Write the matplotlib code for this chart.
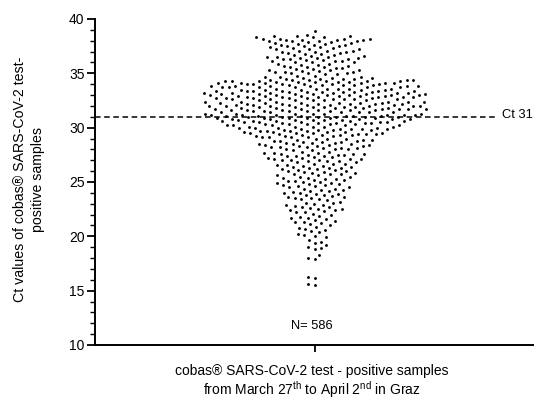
import numpy as np
import matplotlib
matplotlib.use("Agg")
import matplotlib.pyplot as plt
from matplotlib.ticker import MultipleLocator

plt.rcParams['font.family'] = ['Liberation Sans', 'DejaVu Sans']
plt.rcParams['mathtext.fontset'] = 'custom'
plt.rcParams['mathtext.rm'] = 'Liberation Sans'
plt.rcParams['mathtext.it'] = 'Liberation Sans:italic'
plt.rcParams['lines.scale_dashes'] = False

# ---- data: number of samples at each tenth of a cycle, per whole Ct value ----
ct_whole = [15, 16, 17, 18, 19, 20, 21, 22, 23, 24, 25, 26,
            27, 28, 29, 30, 31, 32, 33, 34, 35, 36, 37, 38]
tenth_counts = [
    [0, 0, 0, 0, 0, 1, 1, 0, 0, 0],   # 15
    [0, 0, 1, 1, 0, 0, 0, 0, 0, 0],   # 16
    [0, 0, 0, 0, 0, 0, 0, 0, 0, 1],   # 17
    [1, 0, 0, 1, 0, 0, 0, 0, 1, 1],   # 18
    [1, 0, 1, 0, 1, 1, 0, 1, 0, 1],   # 19
    [1, 1, 1, 0, 1, 1, 1, 1, 1, 1],   # 20
    [1, 1, 1, 2, 1, 1, 1, 2, 1, 1],   # 21
    [1, 1, 2, 1, 2, 2, 1, 2, 1, 2],   # 22
    [1, 2, 1, 1, 2, 2, 2, 1, 2, 2],   # 23
    [2, 1, 2, 2, 2, 2, 2, 2, 2, 2],   # 24
    [2, 2, 2, 2, 2, 2, 2, 3, 2, 2],   # 25
    [2, 2, 2, 3, 2, 2, 2, 3, 2, 3],   # 26
    [3, 3, 2, 2, 3, 3, 3, 3, 2, 2],   # 27
    [3, 3, 3, 3, 3, 3, 3, 3, 3, 3],   # 28
    [3, 4, 3, 4, 4, 4, 4, 4, 4, 5],   # 29
    [4, 5, 5, 5, 5, 5, 5, 5, 5, 6],   # 30
    [6, 6, 6, 6, 6, 5, 6, 6, 5, 6],   # 31
    [6, 6, 6, 6, 6, 5, 6, 6, 6, 6],   # 32
    [6, 6, 6, 6, 6, 5, 6, 6, 6, 5],   # 33
    [6, 6, 5, 6, 5, 4, 3, 3, 2, 2],   # 34
    [3, 3, 2, 3, 2, 2, 3, 2, 2, 2],   # 35
    [3, 3, 2, 3, 3, 3, 2, 2, 2, 2],   # 36
    [3, 3, 3, 2, 2, 3, 3, 2, 2, 2],   # 37
    [4, 4, 4, 3, 3, 1, 0, 0, 0, 1],   # 38
]
cutoff_ct = 31
n_label = "N= 586"
x_label = ("cobas® SARS-CoV-2 test - positive samples\n"
           "from March 27$^{\\mathrm{th}}$ to April 2$^{\\mathrm{nd}}$ in Graz")
y_label = "Ct values of cobas® SARS-CoV-2 test-\npositive samples"

values = []
for w, row in zip(ct_whole, tenth_counts):
    for t, c in enumerate(row):
        values += [w + t / 10.0] * c
values = np.sort(np.array(values))

# ---- figure ----
W, H = 534, 399
fig = plt.figure(figsize=(W / 100, H / 100), dpi=100)
ax_l, ax_b, ax_w, ax_h = 95 / W, 54 / H, 439 / W, 326 / H
ax = fig.add_axes([ax_l, ax_b, ax_w, ax_h])
ax.set_xlim(-1, 1)
ax.set_ylim(10, 40)

# beeswarm layout computed in pixel space
px_per_x = ax_w * W / 2.0
px_per_y = ax_h * H / 30.0
d = 6.4
ys = values * px_per_y
px_list, py_list = [], []
for i, yi in enumerate(ys):
    px = np.array(px_list)
    py = np.array(py_list)
    if len(px):
        m = np.abs(py - yi) < d
        nx, ny = px[m], py[m]
    else:
        nx, ny = np.array([]), np.array([])
    dx = np.sqrt(np.maximum(d ** 2 - (ny - yi) ** 2, 0))
    cands = np.concatenate([[0.0], nx + dx, nx - dx])
    sgn = 1 if i % 2 else -1
    order = np.lexsort((sgn * cands, np.round(np.abs(cands), 6)))
    chosen = 0.0
    for c in cands[order]:
        if len(nx) == 0 or np.all((nx - c) ** 2 + (ny - yi) ** 2 >= d ** 2 - 1e-6):
            chosen = c
            break
    px_list.append(chosen)
    py_list.append(yi)
x_off = np.array(px_list) / px_per_x

ax.scatter(x_off, values, s=4.2, color='black', linewidths=0, zorder=3)

ax.plot([-1, 0.822], [cutoff_ct, cutoff_ct], color='black', lw=1.1,
        dashes=(4, 2.6), zorder=2, clip_on=False)
ax.text(0.855, cutoff_ct + 0.15, "Ct 31", fontsize=9.3, ha='left', va='center')
ax.text(-0.01, 11.75, n_label, fontsize=9.3, ha='center', va='center')

for s in ['top', 'right']:
    ax.spines[s].set_visible(False)
for s in ['left', 'bottom']:
    ax.spines[s].set_linewidth(1.4)

ax.yaxis.set_major_locator(MultipleLocator(5))
ax.yaxis.set_minor_locator(MultipleLocator(1))
ax.tick_params(axis='y', which='major', length=6, width=1.3, labelsize=10, pad=1.5)
ax.tick_params(axis='y', which='minor', length=3.5, width=1.0)
ax.set_xticks([0])
ax.set_xticklabels([''])
ax.tick_params(axis='x', length=5, width=1.3)

fig.text(312 / W, 1 - 382 / H, x_label, fontsize=10, ha='center', va='center',
         linespacing=1.1)
fig.text(29 / W, 1 - 179 / H, y_label, fontsize=10.2, ha='center', va='center',
         rotation=90, linespacing=1.3)

fig.savefig("out.png", dpi=100)
